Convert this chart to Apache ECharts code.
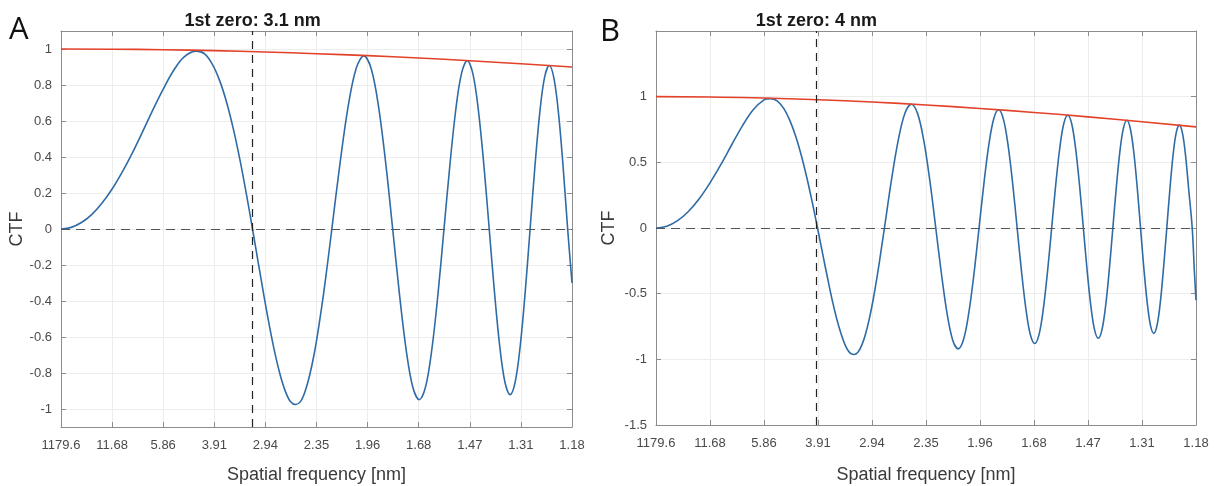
<!DOCTYPE html>
<html>
<head>
<meta charset="utf-8">
<script src="https://cdn.jsdelivr.net/npm/echarts@6/dist/echarts.min.js"></script>
<style>
  html, body { margin: 0; padding: 0; background: #ffffff; }
  #chart { width: 1220px; height: 486px; }
</style>
</head>
<body>
<div id="chart"></div>
<script>
// Resolution (nm) printed under each of the 11 evenly spaced frequency ticks
const resolutionLabels = ['1179.6', '11.68', '5.86', '3.91', '2.94', '2.35', '1.96', '1.68', '1.47', '1.31', '1.18'];

// x positions are given in frequency-tick steps (0 = 1/1179.6 nm, 10 = 1/1.18 nm)
// Panel A: CTF curve [x, ctf]
const ctfA = [
  [0, 0], [0.2, 0.009], [0.4, 0.036], [0.6, 0.080], [0.8, 0.143], [1.0, 0.222], [1.2, 0.317], [1.4, 0.424],
  [1.6, 0.542], [1.8, 0.663], [2.0, 0.777], [2.2, 0.879], [2.4, 0.954], [2.650, 0.988],
  [2.811, 0.973], [2.963, 0.915], [3.107, 0.823], [3.246, 0.699], [3.378, 0.549], [3.506, 0.378], [3.629, 0.192], [3.748, 0],
  [3.863, -0.192], [3.975, -0.377], [4.084, -0.546], [4.190, -0.694], [4.294, -0.815], [4.395, -0.905], [4.493, -0.960], [4.590, -0.975],
  [4.685, -0.959], [4.777, -0.902], [4.868, -0.810], [4.958, -0.689], [5.045, -0.541], [5.132, -0.373], [5.217, -0.189], [5.300, 0],
  [5.463, 0.371], [5.621, 0.684], [5.776, 0.892], [5.926, 0.962], [6.072, 0.889], [6.215, 0.679], [6.354, 0.367], [6.491, 0],
  [6.625, -0.366], [6.756, -0.674], [6.885, -0.879], [7.011, -0.948], [7.135, -0.876], [7.257, -0.669], [7.377, -0.362], [7.495, 0],
  [7.612, 0.360], [7.726, 0.664], [7.839, 0.866], [7.950, 0.935], [8.060, 0.863], [8.168, 0.659], [8.275, 0.356], [8.380, 0],
  [8.484, -0.355], [8.587, -0.654], [8.689, -0.853], [8.789, -0.920], [8.888, -0.850], [8.987, -0.649], [9.084, -0.351], [9.180, 0],
  [9.275, 0.350], [9.369, 0.645], [9.462, 0.841], [9.555, 0.908], [9.646, 0.838], [9.737, 0.640], [9.826, 0.346], [9.915, 0],
  [10, -0.30]
];
// Panel A: envelope [x, value]
const envA = [[0, 1.0], [1, 0.999], [2, 0.996], [3, 0.991], [4, 0.983], [5, 0.974], [6, 0.963], [7, 0.950], [8, 0.935], [9, 0.918], [10, 0.900]];

// Panel B: CTF curve [x, ctf]
const ctfB = [
  [0, 0], [0.2, 0.014], [0.4, 0.056], [0.6, 0.126], [0.8, 0.223], [1.0, 0.344], [1.2, 0.482], [1.4, 0.632],
  [1.6, 0.778], [1.8, 0.900], [2.0, 0.976], [2.115, 0.985],
  [2.243, 0.968], [2.365, 0.911], [2.480, 0.818], [2.590, 0.695], [2.696, 0.545], [2.798, 0.375], [2.896, 0.191], [2.991, 0],
  [3.083, -0.190], [3.173, -0.373], [3.259, -0.541], [3.344, -0.687], [3.427, -0.806], [3.507, -0.895], [3.586, -0.949], [3.663, -0.963],
  [3.739, -0.946], [3.813, -0.890], [3.886, -0.799], [3.957, -0.679], [4.027, -0.533], [4.096, -0.367], [4.163, -0.186], [4.230, 0],
  [4.360, 0.364], [4.487, 0.671], [4.610, 0.874], [4.729, 0.942], [4.846, 0.869], [4.960, 0.663], [5.072, 0.358], [5.181, 0],
  [5.288, -0.356], [5.392, -0.655], [5.495, -0.854], [5.596, -0.920], [5.695, -0.849], [5.792, -0.648], [5.888, -0.350], [5.982, 0],
  [6.075, 0.348], [6.166, 0.640], [6.256, 0.834], [6.345, 0.900], [6.433, 0.829], [6.519, 0.633], [6.604, 0.342], [6.688, 0],
  [6.771, -0.340], [6.853, -0.625], [6.934, -0.815], [7.015, -0.880], [7.094, -0.810], [7.172, -0.618], [7.250, -0.334], [7.327, 0],
  [7.403, 0.332], [7.478, 0.611], [7.552, 0.796], [7.626, 0.858], [7.699, 0.792], [7.771, 0.604], [7.843, 0.326], [7.914, 0],
  [7.984, -0.324], [8.054, -0.597], [8.123, -0.778], [8.191, -0.840], [8.259, -0.774], [8.327, -0.590], [8.394, -0.319], [8.460, 0],
  [8.526, 0.317], [8.591, 0.583], [8.656, 0.760], [8.720, 0.820], [8.784, 0.756], [8.848, 0.577], [8.911, 0.311], [8.973, 0],
  [9.035, -0.310], [9.097, -0.570], [9.158, -0.743], [9.219, -0.802], [9.280, -0.738], [9.340, -0.563], [9.399, -0.304], [9.459, 0],
  [9.518, 0.303], [9.576, 0.557], [9.634, 0.726], [9.692, 0.783], [9.750, 0.721], [9.807, 0.550], [9.864, 0.297], [9.930, 0],
  [9.970, -0.33], [10, -0.55]
];
// Panel B: envelope [x, value]
const envB = [[0, 1.0], [1, 0.997], [2, 0.990], [3, 0.977], [4, 0.959], [5, 0.937], [6, 0.910], [7, 0.880], [8, 0.846], [9, 0.809], [10, 0.770]];

// First CTF zero of each panel, in nm
const firstZeroNm = [3.14, 3.97];
const panelLetters = ['A', 'B'];

// Convert a resolution in nm to the tick-step position on the frequency axis
const fLow = 1 / 1179.6, fHigh = 1 / 1.18;
const nmToPos = nm => (1 / nm - fLow) / ((fHigh - fLow) / 10);

const FONT = '"Liberation Sans", Arial, sans-serif';
const AXIS_GREY = '#8c8c8c';
const BLUE = '#2f6ca6';
const RED = '#e2412a';

const grids = [
  { left: 61, top: 31, width: 511, height: 396, outerBoundsMode: 'none' },
  { left: 656, top: 31, width: 540, height: 394, outerBoundsMode: 'none' }
];

const baseTick = { show: true, inside: true, length: 5, lineStyle: { color: AXIS_GREY, width: 1 } };
const baseLine = { show: true, onZero: false, lineStyle: { color: AXIS_GREY, width: 1 } };
const gridLine = { show: true, lineStyle: { color: '#ededed', width: 1 } };

const xAxes = [], yAxes = [];
const yRanges = [
  { min: -1.1, max: 1.1, splitNumber: 11 },
  { min: -1.5, max: 1.5, interval: 0.5 }
];
const xNameGap = [39, 41];
const yNameGap = [33, 38];

[0, 1].forEach(i => {
  xAxes.push({
    gridIndex: i, type: 'value', position: 'bottom', min: 0, max: 10, interval: 1,
    axisLine: baseLine, axisTick: baseTick, splitLine: gridLine,
    axisLabel: {
      color: '#4a4a4a', fontSize: 13, fontFamily: FONT, margin: 12,
      formatter: v => resolutionLabels[Math.round(v)]
    },
    name: 'Spatial frequency [nm]', nameLocation: 'middle', nameGap: xNameGap[i],
    nameTextStyle: { color: '#3a3a3a', fontSize: 18, fontFamily: FONT }
  });
  xAxes.push({
    gridIndex: i, type: 'value', position: 'top', min: 0, max: 10, interval: 1,
    axisLine: baseLine, axisTick: baseTick, splitLine: { show: false }, axisLabel: { show: false }
  });
  const yr = yRanges[i];
  yAxes.push(Object.assign({
    gridIndex: i, type: 'value', position: 'left',
    axisLine: baseLine, axisTick: baseTick, splitLine: gridLine,
    axisLabel: {
      color: '#4a4a4a', fontSize: 13, fontFamily: FONT, margin: 9,
      showMinLabel: i === 1, showMaxLabel: false
    },
    name: 'CTF', nameLocation: 'middle', nameGap: yNameGap[i],
    nameTextStyle: { color: '#3a3a3a', fontSize: 18, fontFamily: FONT }
  }, yr));
  yAxes.push(Object.assign({
    gridIndex: i, type: 'value', position: 'right',
    axisLine: baseLine, axisTick: baseTick, splitLine: { show: false }, axisLabel: { show: false }
  }, yr));
});

const ctfSets = [ctfA, ctfB];
const envSets = [envA, envB];
const series = [];
[0, 1].forEach(i => {
  const zeroLabel = '1st zero: ' + (+firstZeroNm[i].toPrecision(2)) + ' nm';
  series.push({
    type: 'line', name: 'CTF ' + panelLetters[i], xAxisIndex: i * 2, yAxisIndex: i * 2,
    data: ctfSets[i], showSymbol: false, smooth: 0.35, z: 3,
    lineStyle: { color: BLUE, width: 1.6 },
    markLine: {
      silent: true, symbol: ['none', 'none'], animation: false,
      data: [
        { yAxis: 0, lineStyle: { color: '#555555', width: 1.2, type: [9, 6] }, label: { show: false } },
        {
          xAxis: nmToPos(firstZeroNm[i]),
          lineStyle: { color: '#222222', width: 1.2, type: [8, 6] },
          label: {
            show: true, position: 'end', distance: 1, formatter: zeroLabel,
            color: '#1a1a1a', fontSize: 18, fontWeight: 'bold', fontFamily: FONT
          }
        }
      ]
    }
  });
  series.push({
    type: 'line', name: 'Envelope ' + panelLetters[i], xAxisIndex: i * 2, yAxisIndex: i * 2,
    data: envSets[i], showSymbol: false, smooth: true, z: 4,
    lineStyle: { color: RED, width: 1.6 }
  });
});

const chart = echarts.init(document.getElementById('chart'), null, { renderer: 'canvas' });
chart.setOption({
  animation: false,
  backgroundColor: '#ffffff',
  grid: grids,
  xAxis: xAxes,
  yAxis: yAxes,
  series: series,
  graphic: [
    { type: 'text', left: 9, top: 15, style: { text: panelLetters[0], font: '31px "Open Sans", sans-serif', fill: '#111111' } },
    { type: 'text', left: 600, top: 17, style: { text: panelLetters[1], font: '31px "Open Sans", sans-serif', fill: '#111111' } }
  ]
});
</script>
</body>
</html>
